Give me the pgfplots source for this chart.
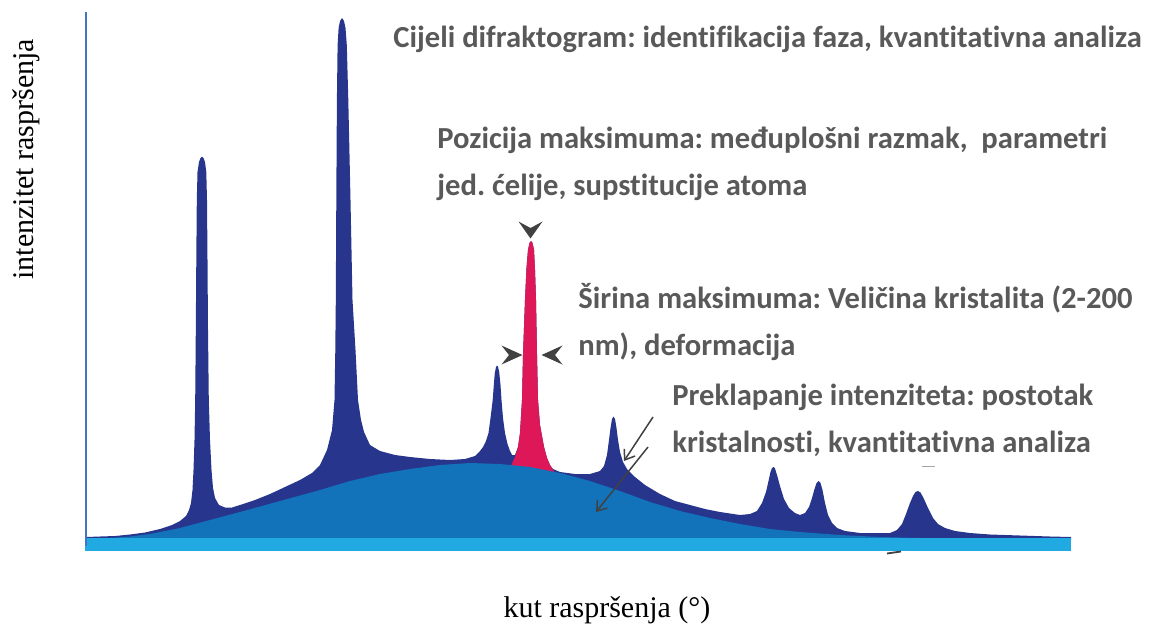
\documentclass[border=0pt]{standalone}
\usepackage{fontspec}
\setmainfont{Liberation Serif}
\newfontfamily\annfont{Carlito}[Ligatures=CommonOff]
\usepackage{pgfplots}
\pgfplotsset{compat=1.18}
\usetikzlibrary{arrows.meta}
\definecolor{navy}{RGB}{39,53,141}
\definecolor{hump}{RGB}{18,115,186}
\definecolor{redpk}{RGB}{222,24,88}
\definecolor{barblue}{RGB}{33,170,226}
\definecolor{axblue}{RGB}{68,114,196}
\definecolor{anngray}{RGB}{89,89,89}
\definecolor{arrgray}{RGB}{65,65,65}
\frenchspacing
\begin{document}
\begin{tikzpicture}
\begin{axis}[scale only axis, width=578pt, height=316.5pt,
  xmin=0, xmax=1156, ymin=0, ymax=633, y dir=reverse,
  hide axis, clip=false]
% total diffractogram (navy)
\addplot[fill=navy, draw=none] coordinates {
(86,540) (86,537) (100,536.5) (115,536) (130,534.5) (145,532.5) (160,529) (172,525) (180,521) (186,516) (189,510) (191,503) (192.5,490) (193.5,470) (194.5,440) (195.2,400) (195.8,330) (196.3,260) (196.8,200) (197.5,172) (199,162) (200.5,158) (202,156.5) (203.5,158) (205,162) (206.3,172) (207,200) (207.5,260) (208,330) (208.8,400) (210,440) (211.5,470) (213,488) (215,498) (219,505) (225,507.5) (232,507.5) (240,505) (255,500) (270,494) (285,487) (300,480) (312,473) (320,465) (327,450) (332,430) (334.5,400) (335.3,350) (335.8,300) (336.3,200) (336.9,100) (337.6,45) (338.6,28) (340,21) (342,18) (344,21) (345.5,28) (346.8,45) (348.3,100) (350.5,200) (352.5,300) (355.5,350) (358,400) (361,420) (364,432) (370,445) (380,451) (395,455) (410,457) (430,459) (450,460) (465,459) (475,456) (480,451) (483,447) (486,441) (488.5,433) (490,422) (491.5,410) (492.7,400) (493.8,385) (494.8,373) (496,367) (497,365.5) (498,366.5) (499.2,372) (500.5,385) (501.5,400) (503,418) (505,433) (507.5,444) (510,451) (512,455) (515,455) (518,447) (520,433) (522,400) (523,355) (525,300) (526.5,268) (528,250) (529.5,243) (531,241) (532.5,243) (534,250) (535,270) (536,300) (537,355) (538,400) (540,425) (542,436) (544,447) (547,458) (550,465) (553,469) (560,472) (575,474) (590,474) (600,471) (604,466) (607,455) (609,440) (610.5,428) (612,419) (613.5,416.5) (615,419) (616.5,428) (618,440) (620,452) (623,462) (627,469) (635,477) (645,485) (660,494) (675,501) (690,505) (705,509) (720,512) (740,515) (750,514) (757,511) (762,503) (766,492) (768.5,481) (770.5,472) (772,468) (773.5,467) (775,468.5) (777,475) (780,486) (784,499) (789,508) (795,513) (800,515) (805,513) (809,507) (812,498) (814.5,489) (816.5,483) (818.5,481) (820.5,483) (822.5,490) (825,503) (828,515) (832,523) (837,528) (845,531) (860,533) (875,533) (890,533) (897,530) (902,524) (906,514) (910,503) (913,496) (915.5,492) (918,491) (920.5,492.5) (923.5,498) (928,508) (933,518) (938,524) (945,528) (955,531) (970,533) (990,534.5) (1020,535.5) (1050,536.5) (1071,537) (1071,540)
} -- cycle;
% highlighted peak (red)
\addplot[fill=redpk, draw=none] coordinates {
(510,540) (510,468) (512,464) (513,461) (515,457) (518,447) (520,433) (522,400) (523,355) (525,300) (526.5,268) (528,250) (529.5,243) (531,241) (532.5,243) (534,250) (535,270) (536,300) (537,355) (538,400) (540,425) (542,436) (544,447) (547,458) (550,465) (553,470) (555,473) (555,540)
} -- cycle;
% amorphous hump
\addplot[fill=hump, draw=none] coordinates {
(100,540) (110,538) (130,536.5) (150,534) (180,528) (210,520) (240,512) (280,501) (320,490) (350,481) (380,474) (410,469) (440,465) (470,463) (500,464) (530,467) (560,473) (590,481) (620,491) (650,502) (680,511) (710,518) (740,524) (770,529) (800,532) (840,535) (880,537) (920,538) (920,540)
} -- cycle;
% baseline bar
\addplot[fill=barblue, draw=none] coordinates {(85,538) (1071,538) (1071,550.5) (85,550.5)} -- cycle;
% left axis line
\addplot[draw=axblue, line width=1pt] coordinates {(85.5,12) (85.5,546)};
% small marks
\addplot[draw=gray!70, line width=0.8pt] coordinates {(922,466.5) (935,466.5)};
\addplot[draw=arrgray, line width=0.9pt] coordinates {(887,553.5) (901,551.5)};
% position marker (down)
\addplot[fill=arrgray, draw=none] coordinates {(518.5,221.5) (530.5,228) (542.5,221.5) (530.5,238.5)} -- cycle;
% width markers
\addplot[fill=arrgray, draw=none] coordinates {(501.5,345.5) (509,355) (501.5,364.5) (522.5,355)} -- cycle;
\addplot[fill=arrgray, draw=none] coordinates {(562.5,345.5) (555,355) (562.5,364.5) (541.5,355)} -- cycle;
% overlap arrows
\addplot[draw=arrgray, line width=0.75pt, -{Straight Barb[length=4.5pt,width=6.5pt]}] coordinates {(653,417) (624,461)};
\addplot[draw=arrgray, line width=0.75pt, -{Straight Barb[length=4.5pt,width=6.5pt]}] coordinates {(648,447) (596,512)};
% annotations
\begin{scope}[every node/.style={inner sep=0pt, anchor=base west, text=anngray, font=\annfont\bfseries\fontsize{15.3}{18}\selectfont}]
\node at (axis cs:393,47) {Cijeli difraktogram: identifikacija faza, kvantitativna analiza};
\node at (axis cs:437,148) {Pozicija maksimuma: međuplošni razmak,\ \ parametri};
\node at (axis cs:437,195) {jed. ćelije, supstitucije atoma};
\node at (axis cs:578,308) {Širina maksimuma: Veličina kristalita (2-200};
\node at (axis cs:578,355) {nm), deformacija};
\node at (axis cs:672,405) {Preklapanje intenziteta: postotak};
\node at (axis cs:672,452) {kristalnosti, kvantitativna analiza};
\end{scope}
% axis labels
\node[inner sep=0pt, anchor=base, font=\fontsize{15}{18}\selectfont] at (axis cs:607,617) {kut raspršenja (°)};
\node[inner sep=0pt, anchor=base west, rotate=90, font=\fontsize{15}{18}\selectfont] at (axis cs:33,280) {intenzitet raspršenja};
\end{axis}
\pgfresetboundingbox
\path[use as bounding box] (0,0) rectangle (578pt,316.5pt);
\end{tikzpicture}
\end{document}
